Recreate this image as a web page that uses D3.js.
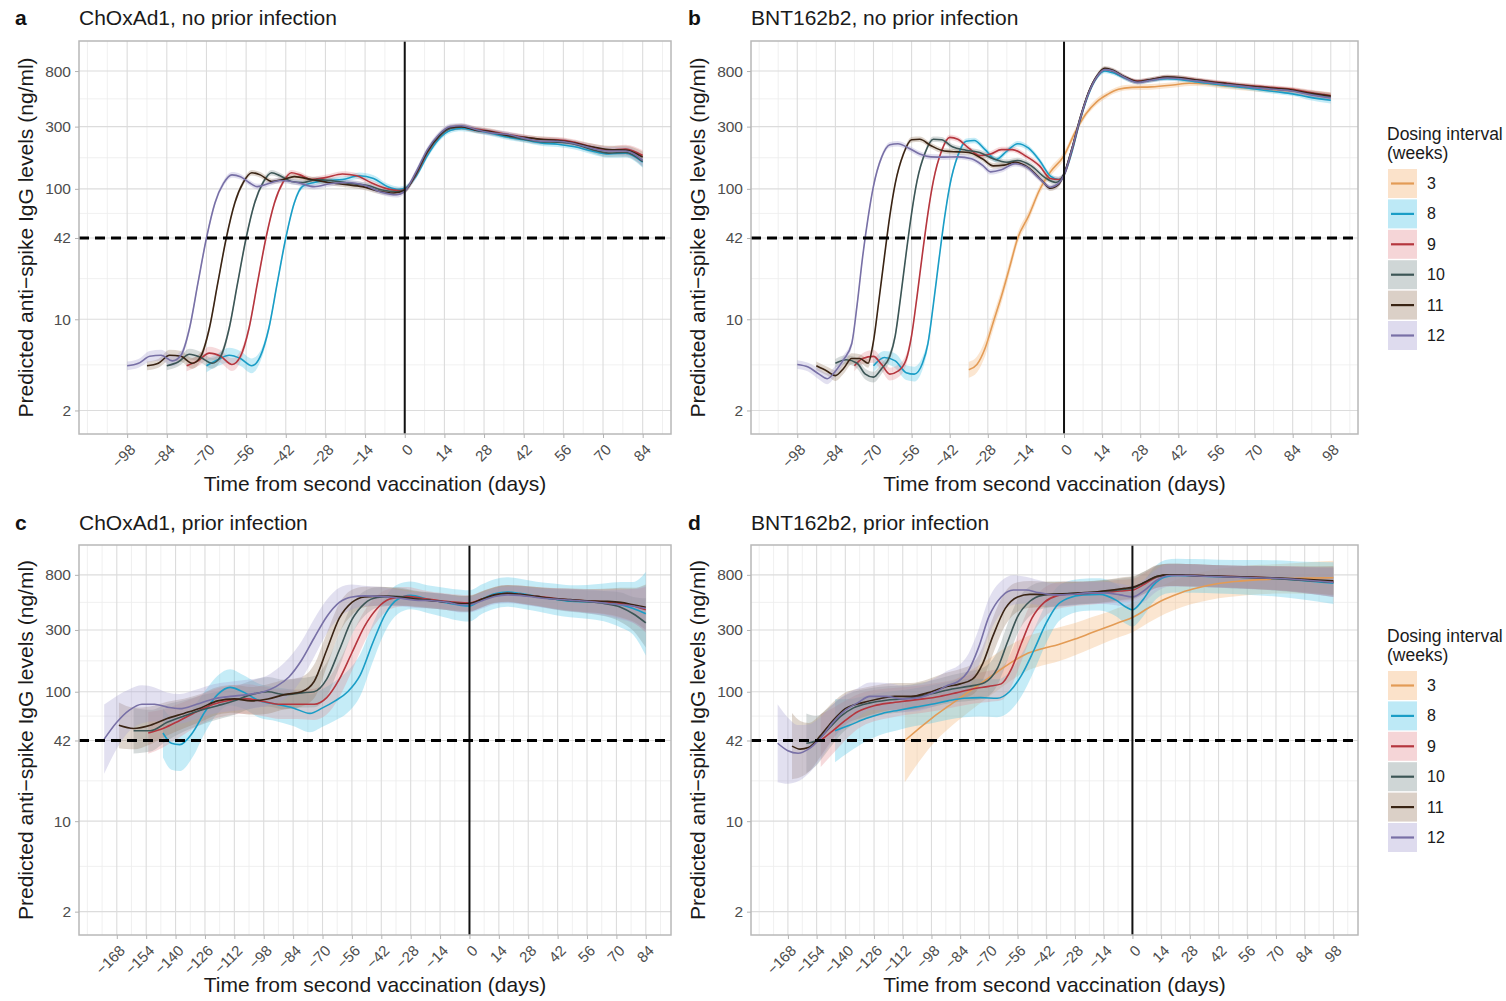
<!DOCTYPE html>
<html><head><meta charset="utf-8">
<script src="https://cdn.jsdelivr.net/npm/d3@7"></script>
<style>body{margin:0;background:#fff;} svg{display:block;}</style>
</head><body><svg id="chart" width="1506" height="1001"></svg>
<script>
// ---------------- DATA ----------------
const intervals = ["3","8","9","10","11","12"];
const yTicks = [2, 10, 42, 100, 300, 800];
const xTicksA = [-98,-84,-70,-56,-42,-28,-14,0,14,28,42,56,70,84];
const xTicksB = [-98,-84,-70,-56,-42,-28,-14,0,14,28,42,56,70,84,98];
const xTicksC = [-168,-154,-140,-126,-112,-98,-84,-70,-56,-42,-28,-14,0,14,28,42,56,70,84];
const xTicksD = [-168,-154,-140,-126,-112,-98,-84,-70,-56,-42,-28,-14,0,14,28,42,56,70,84,98];
const threshold = 42;

// each point: [day, predicted level, CI half-width factor]
const A12 = [[-98,4.4,1.08],[-94,4.6,1.08],[-90,5.2,1.1],[-86,5.3,1.1],[-82,4.8,1.1],[-79,5.3,1.08],[-76,8.5,1.07],[-73,19,1.06],[-70,42,1.05],[-67,78,1.05],[-64,110,1.05],[-61,128,1.05],[-58,124,1.05],[-55,112,1.05],[-52,104,1.05],[-48,110,1.05],[-44,116,1.05],[-38,112,1.05],[-32,104,1.05],[-26,110,1.05],[-20,112,1.05],[-14,106,1.05],[-8,94,1.05],[-3,90,1.05],[0,96,1.05],[4,135,1.05],[8,200,1.05],[12,260,1.05],[16,300,1.05],[20,305,1.05],[25,285,1.05],[30,270,1.05],[36,262,1.05],[42,245,1.05],[48,232,1.05],[54,232,1.05],[60,222,1.05],[66,205,1.06],[72,195,1.07],[78,195,1.08],[84,165,1.1]];
const A11 = [[-91,4.4,1.08],[-87,4.6,1.08],[-83,5.3,1.1],[-79,5.2,1.1],[-75,4.6,1.1],[-72,5.2,1.08],[-69,8.5,1.07],[-66,19,1.06],[-63,42,1.05],[-60,78,1.05],[-57,112,1.05],[-54,133,1.05],[-51,128,1.05],[-47,114,1.05],[-43,118,1.05],[-39,124,1.05],[-33,118,1.05],[-27,112,1.05],[-21,108,1.05],[-15,104,1.05],[-9,96,1.05],[-4,93,1.05],[0,97,1.05],[4,132,1.05],[8,195,1.05],[12,255,1.05],[16,295,1.05],[20,300,1.05],[25,282,1.05],[30,275,1.05],[36,258,1.05],[42,248,1.05],[48,240,1.05],[54,235,1.05],[60,225,1.05],[66,210,1.06],[72,200,1.07],[78,198,1.08],[84,175,1.1]];
const A10 = [[-84,4.4,1.08],[-80,4.7,1.08],[-76,5.4,1.1],[-72,5.1,1.1],[-68,4.6,1.1],[-65,5.2,1.08],[-62,8.5,1.07],[-59,19,1.06],[-56,42,1.05],[-53,78,1.05],[-50,112,1.05],[-47,133,1.05],[-44,126,1.05],[-40,114,1.05],[-36,112,1.05],[-31,118,1.05],[-25,115,1.05],[-19,110,1.05],[-13,106,1.05],[-8,98,1.05],[-3,95,1.05],[0,98,1.05],[4,130,1.05],[8,192,1.05],[12,250,1.05],[16,290,1.05],[20,298,1.05],[25,285,1.05],[30,272,1.05],[36,255,1.05],[42,240,1.05],[48,230,1.05],[54,228,1.05],[60,220,1.05],[66,200,1.06],[72,188,1.07],[78,190,1.08],[84,162,1.1]];
const A9 = [[-77,4.4,1.1],[-73,4.8,1.1],[-69,5.5,1.12],[-65,5.2,1.12],[-61,4.5,1.12],[-58,5.2,1.1],[-55,8.5,1.07],[-52,19,1.06],[-49,42,1.05],[-46,78,1.05],[-43,112,1.05],[-40,133,1.05],[-37,128,1.05],[-33,118,1.05],[-28,122,1.05],[-22,130,1.05],[-17,126,1.05],[-12,112,1.05],[-6,100,1.05],[-2,97,1.05],[0,99,1.05],[4,128,1.05],[8,190,1.05],[12,250,1.05],[16,292,1.05],[20,300,1.05],[25,288,1.05],[30,278,1.05],[36,262,1.05],[42,250,1.05],[48,240,1.05],[54,238,1.05],[60,228,1.05],[66,210,1.06],[72,198,1.07],[78,202,1.08],[84,180,1.1]];
const A8 = [[-70,4.4,1.12],[-66,4.9,1.12],[-62,5.3,1.14],[-58,5.0,1.14],[-54,4.4,1.14],[-51,5.2,1.1],[-48,8.5,1.07],[-45,19,1.06],[-42,42,1.05],[-39,78,1.05],[-36,105,1.05],[-32,112,1.05],[-27,116,1.05],[-22,118,1.05],[-16,126,1.06],[-11,120,1.06],[-6,104,1.05],[-2,99,1.05],[0,101,1.05],[4,125,1.05],[8,180,1.05],[12,240,1.05],[16,280,1.05],[20,290,1.05],[25,280,1.05],[30,268,1.05],[36,250,1.05],[42,238,1.05],[48,225,1.05],[54,220,1.05],[60,210,1.05],[66,195,1.06],[72,185,1.07],[78,188,1.08],[84,160,1.1]];

const B12 = [[-98,4.5,1.08],[-94,4.3,1.08],[-90,3.8,1.1],[-87,3.5,1.1],[-84,4.0,1.1],[-81,4.9,1.08],[-78,6.5,1.07],[-76,13,1.06],[-74,30,1.05],[-72,60,1.05],[-70,105,1.05],[-67,175,1.05],[-64,218,1.05],[-61,222,1.05],[-57,205,1.05],[-53,185,1.05],[-49,176,1.05],[-44,175,1.05],[-39,176,1.05],[-34,170,1.05],[-30,152,1.05],[-27,135,1.05],[-23,140,1.05],[-18,156,1.05],[-14,148,1.05],[-9,120,1.05],[-5,103,1.05],[-2,110,1.05],[0,128,1.05],[3,205,1.05],[6,350,1.05],[9,540,1.04],[12,720,1.04],[15,820,1.04],[18,800,1.04],[22,720,1.04],[27,655,1.04],[32,680,1.04],[38,708,1.04],[43,698,1.04],[48,675,1.04],[54,650,1.04],[60,630,1.04],[66,610,1.04],[72,592,1.04],[78,578,1.04],[84,562,1.04],[90,530,1.05],[98,498,1.06]];
const B11 = [[-91,4.4,1.08],[-87,4.0,1.08],[-84,3.7,1.1],[-81,4.2,1.1],[-78,5.0,1.1],[-75,5.0,1.08],[-72,4.6,1.08],[-70,6.8,1.07],[-68,14,1.06],[-66,30,1.05],[-64,62,1.05],[-62,110,1.05],[-59,185,1.05],[-56,238,1.05],[-53,240,1.05],[-49,215,1.05],[-44,195,1.05],[-39,192,1.05],[-35,190,1.05],[-30,170,1.05],[-26,150,1.05],[-22,152,1.05],[-18,160,1.05],[-13,145,1.05],[-8,115,1.05],[-5,101,1.05],[-2,108,1.05],[0,130,1.05],[3,208,1.05],[6,355,1.05],[9,550,1.04],[12,730,1.04],[15,840,1.04],[18,812,1.04],[22,728,1.04],[27,665,1.04],[32,690,1.04],[38,720,1.04],[43,710,1.04],[48,686,1.04],[54,660,1.04],[60,640,1.04],[66,620,1.04],[72,602,1.04],[78,588,1.04],[84,572,1.04],[90,542,1.05],[98,515,1.06]];
const B10 = [[-84,4.6,1.08],[-80,4.9,1.08],[-76,4.6,1.1],[-73,3.8,1.1],[-70,3.6,1.1],[-67,4.2,1.1],[-64,5.2,1.08],[-62,7.5,1.07],[-60,15,1.06],[-58,32,1.05],[-56,65,1.05],[-54,115,1.05],[-51,190,1.05],[-48,240,1.05],[-45,238,1.05],[-41,210,1.05],[-36,198,1.05],[-31,190,1.05],[-26,170,1.05],[-21,160,1.05],[-17,165,1.05],[-12,150,1.05],[-7,122,1.05],[-3,112,1.05],[0,130,1.05],[3,205,1.05],[6,350,1.05],[9,545,1.04],[12,725,1.04],[15,830,1.04],[18,800,1.04],[22,720,1.04],[27,660,1.04],[32,685,1.04],[38,715,1.04],[43,705,1.04],[48,680,1.04],[54,655,1.04],[60,635,1.04],[66,612,1.04],[72,595,1.04],[78,580,1.04],[84,565,1.04],[90,535,1.05],[98,505,1.06]];
const B9 = [[-77,4.4,1.1],[-74,5.0,1.1],[-70,5.2,1.12],[-67,4.5,1.12],[-64,3.8,1.12],[-61,4.0,1.12],[-58,4.9,1.1],[-56,7.5,1.07],[-54,15,1.06],[-52,32,1.05],[-50,65,1.05],[-48,115,1.05],[-45,195,1.05],[-42,248,1.05],[-39,240,1.05],[-35,205,1.05],[-31,180,1.05],[-27,185,1.05],[-23,200,1.05],[-19,200,1.05],[-14,178,1.05],[-9,150,1.05],[-5,120,1.05],[-2,118,1.05],[0,128,1.05],[3,200,1.05],[6,345,1.05],[9,540,1.04],[12,720,1.04],[15,825,1.04],[18,800,1.04],[22,725,1.04],[27,670,1.04],[32,690,1.04],[38,720,1.04],[43,710,1.04],[48,690,1.04],[54,665,1.04],[60,645,1.04],[66,625,1.04],[72,610,1.04],[78,595,1.04],[84,580,1.04],[90,550,1.05],[98,520,1.06]];
const B8 = [[-70,4.4,1.12],[-66,5.1,1.12],[-62,4.8,1.14],[-58,3.9,1.14],[-55,3.8,1.14],[-52,4.6,1.12],[-50,6.5,1.08],[-48,13,1.06],[-46,28,1.05],[-44,58,1.05],[-42,105,1.05],[-39,180,1.05],[-36,232,1.05],[-33,235,1.05],[-29,200,1.05],[-25,168,1.05],[-21,195,1.05],[-17,222,1.05],[-13,205,1.05],[-9,165,1.05],[-5,125,1.05],[-2,118,1.05],[0,128,1.05],[3,195,1.05],[6,340,1.05],[9,530,1.04],[12,710,1.04],[15,800,1.04],[18,775,1.04],[22,712,1.04],[27,660,1.04],[32,680,1.04],[38,700,1.04],[43,688,1.04],[48,664,1.04],[54,640,1.04],[60,618,1.04],[66,598,1.04],[72,575,1.04],[78,555,1.04],[84,535,1.04],[90,505,1.05],[98,478,1.06]];
const B3 = [[-35,4.1,1.15],[-32,4.5,1.15],[-29,6,1.15],[-26,9.5,1.14],[-23,15,1.13],[-20,25,1.12],[-17,42,1.1],[-13,62,1.1],[-9,98,1.08],[-5,135,1.08],[0,180,1.07],[4,270,1.06],[8,375,1.06],[12,465,1.06],[16,530,1.05],[20,580,1.05],[25,600,1.05],[32,605,1.05],[40,625,1.05],[46,645,1.05],[52,640,1.05],[60,612,1.05],[68,592,1.05],[76,575,1.05],[84,565,1.05],[90,538,1.06],[98,510,1.07]];

const C12 = [[-174,43,1.85],[-168,58,1.6],[-162,72,1.45],[-156,80,1.4],[-150,80,1.35],[-144,76,1.3],[-138,74,1.3],[-130,80,1.3],[-122,88,1.3],[-114,92,1.3],[-106,95,1.3],[-98,100,1.3],[-92,110,1.35],[-86,130,1.4],[-80,175,1.4],[-74,260,1.4],[-68,380,1.35],[-62,490,1.3],[-56,540,1.25],[-50,550,1.2],[-42,545,1.18],[-34,530,1.16],[-26,510,1.15],[-18,505,1.15],[-10,490,1.15],[-4,470,1.15],[0,470,1.15],[6,505,1.15],[12,545,1.15],[18,560,1.16],[24,555,1.17],[32,535,1.18],[40,520,1.2],[48,510,1.22],[56,500,1.23],[64,485,1.25],[72,470,1.3],[78,460,1.35],[84,440,1.5]];
const C11 = [[-167,55,1.5],[-160,52,1.45],[-152,55,1.4],[-144,62,1.35],[-136,68,1.3],[-128,75,1.28],[-120,85,1.28],[-112,88,1.28],[-104,85,1.28],[-96,88,1.3],[-88,95,1.3],[-80,100,1.3],[-74,120,1.35],[-68,210,1.35],[-62,370,1.3],[-56,490,1.25],[-50,540,1.2],[-42,548,1.18],[-34,540,1.16],[-26,520,1.15],[-18,505,1.15],[-10,490,1.15],[-4,478,1.15],[0,480,1.15],[6,520,1.15],[12,560,1.15],[18,575,1.16],[24,565,1.17],[32,545,1.18],[40,525,1.2],[48,515,1.22],[56,505,1.23],[64,500,1.25],[72,490,1.3],[78,470,1.35],[84,450,1.5]];
const C10 = [[-160,50,1.5],[-152,50,1.45],[-144,58,1.38],[-136,65,1.32],[-128,72,1.3],[-120,78,1.28],[-112,85,1.28],[-104,95,1.28],[-96,100,1.3],[-88,95,1.3],[-80,98,1.3],[-74,100,1.32],[-68,125,1.35],[-62,210,1.35],[-56,360,1.3],[-50,480,1.25],[-44,535,1.2],[-36,545,1.18],[-28,530,1.16],[-20,510,1.15],[-12,495,1.15],[-4,480,1.15],[0,478,1.15],[6,515,1.15],[12,555,1.15],[18,570,1.16],[24,560,1.17],[32,540,1.18],[40,520,1.2],[48,505,1.22],[56,495,1.23],[64,480,1.25],[72,450,1.3],[78,400,1.35],[84,340,1.55]];
const C9 = [[-153,48,1.45],[-146,52,1.4],[-138,60,1.35],[-130,70,1.3],[-122,80,1.3],[-114,86,1.3],[-106,88,1.3],[-98,84,1.3],[-90,80,1.3],[-82,80,1.3],[-74,80,1.32],[-68,90,1.35],[-62,125,1.38],[-56,200,1.38],[-50,320,1.32],[-44,440,1.26],[-38,520,1.2],[-30,545,1.18],[-22,525,1.16],[-14,505,1.15],[-6,490,1.15],[0,485,1.15],[6,520,1.15],[12,560,1.15],[18,575,1.16],[24,565,1.17],[32,545,1.18],[40,528,1.2],[48,512,1.22],[56,502,1.23],[64,495,1.25],[72,480,1.3],[78,460,1.35],[84,430,1.5]];
const C8 = [[-146,48,1.55],[-142,40,1.6],[-138,39,1.6],[-132,48,1.55],[-126,70,1.45],[-120,95,1.4],[-114,108,1.38],[-108,100,1.35],[-100,85,1.35],[-92,80,1.35],[-84,75,1.38],[-76,68,1.4],[-70,75,1.4],[-64,85,1.42],[-58,100,1.45],[-52,135,1.45],[-46,240,1.4],[-40,400,1.35],[-34,520,1.3],[-28,555,1.28],[-20,520,1.28],[-12,490,1.3],[-4,465,1.32],[0,460,1.32],[6,520,1.3],[12,570,1.3],[18,590,1.3],[24,575,1.3],[32,545,1.3],[40,520,1.32],[48,500,1.33],[56,495,1.35],[64,490,1.4],[72,470,1.5],[78,440,1.6],[84,400,2.1]];

const D12 = [[-173,40,2.0],[-168,35,1.8],[-163,33.5,1.65],[-158,36,1.55],[-152,44,1.45],[-146,58,1.38],[-140,72,1.33],[-134,82,1.3],[-128,92,1.28],[-120,92,1.27],[-112,88,1.27],[-104,90,1.27],[-96,100,1.28],[-90,112,1.3],[-85,120,1.32],[-80,145,1.35],[-75,220,1.38],[-70,380,1.38],[-64,540,1.33],[-58,610,1.3],[-52,610,1.27],[-46,585,1.25],[-38,560,1.23],[-30,565,1.22],[-22,580,1.22],[-14,580,1.22],[-6,560,1.22],[0,540,1.22],[6,610,1.22],[12,730,1.22],[18,790,1.22],[26,790,1.22],[36,780,1.22],[48,770,1.22],[60,760,1.23],[72,750,1.24],[84,730,1.26],[98,700,1.3]];
const D11 = [[-166,38,1.8],[-162,36,1.65],[-158,37,1.55],[-152,46,1.45],[-146,60,1.38],[-140,74,1.33],[-132,82,1.3],[-124,88,1.28],[-116,92,1.27],[-108,92,1.27],[-100,98,1.27],[-92,108,1.28],[-84,115,1.3],[-78,125,1.32],[-73,165,1.35],[-68,270,1.38],[-62,440,1.35],[-56,540,1.3],[-50,565,1.27],[-42,565,1.25],[-34,570,1.23],[-26,580,1.22],[-18,590,1.22],[-10,610,1.22],[-4,630,1.22],[0,640,1.22],[6,700,1.22],[12,780,1.22],[18,800,1.22],[26,795,1.22],[36,785,1.22],[48,775,1.22],[60,765,1.23],[72,755,1.24],[84,740,1.26],[98,720,1.3]];
const D10 = [[-159,40,1.7],[-154,42,1.55],[-148,52,1.45],[-142,65,1.38],[-136,75,1.33],[-128,82,1.3],[-120,86,1.28],[-112,88,1.27],[-104,92,1.27],[-96,98,1.27],[-88,105,1.28],[-80,110,1.3],[-72,118,1.32],[-66,150,1.35],[-61,240,1.38],[-56,380,1.35],[-50,500,1.3],[-44,555,1.27],[-36,570,1.25],[-28,575,1.23],[-20,585,1.22],[-12,600,1.22],[-4,620,1.22],[0,630,1.22],[6,700,1.22],[12,775,1.22],[18,800,1.22],[26,795,1.22],[36,785,1.22],[48,770,1.22],[60,760,1.23],[72,745,1.24],[84,725,1.26],[98,700,1.3]];
const D9 = [[-152,42,1.6],[-146,50,1.5],[-140,60,1.42],[-134,70,1.36],[-126,78,1.32],[-118,82,1.3],[-110,85,1.28],[-102,88,1.28],[-94,92,1.28],[-86,98,1.28],[-78,105,1.3],[-70,110,1.32],[-64,115,1.34],[-59,150,1.36],[-54,240,1.38],[-49,370,1.35],[-43,490,1.3],[-37,550,1.27],[-30,570,1.25],[-22,575,1.23],[-14,585,1.22],[-6,600,1.22],[0,610,1.22],[6,680,1.22],[12,770,1.22],[18,800,1.22],[26,795,1.22],[36,785,1.22],[48,775,1.22],[60,765,1.23],[72,750,1.24],[84,730,1.26],[98,705,1.3]];
const D8 = [[-145,50,1.75],[-138,55,1.6],[-130,62,1.5],[-122,68,1.45],[-114,72,1.42],[-106,76,1.4],[-98,80,1.4],[-90,85,1.4],[-82,89,1.4],[-74,90,1.4],[-66,89,1.4],[-60,100,1.42],[-54,135,1.45],[-48,210,1.45],[-42,340,1.42],[-37,460,1.38],[-31,530,1.35],[-24,560,1.33],[-16,565,1.33],[-8,510,1.33],[-3,450,1.35],[0,430,1.35],[5,510,1.35],[10,660,1.35],[16,770,1.35],[22,790,1.35],[30,785,1.35],[42,775,1.35],[56,765,1.36],[70,750,1.38],[84,720,1.4],[98,690,1.45]];
const D3 = [[-111,42,2.1],[-104,52,1.8],[-97,64,1.6],[-90,77,1.5],[-83,92,1.45],[-76,110,1.42],[-68,135,1.4],[-60,165,1.38],[-52,195,1.36],[-44,215,1.35],[-36,232,1.35],[-28,255,1.33],[-20,285,1.32],[-12,318,1.3],[-6,345,1.3],[0,375,1.3],[8,445,1.3],[16,520,1.3],[24,585,1.3],[32,635,1.3],[42,685,1.3],[52,715,1.3],[62,735,1.3],[72,745,1.3],[84,755,1.32],[98,760,1.35]];

// ---------------- STYLE / LAYOUT ----------------
const FONT = '"Liberation Sans", Arial, Helvetica, sans-serif';
const lineCol = {"3":"#E39B55","8":"#1A9DC6","9":"#B5363E","10":"#3C5656","11":"#3A2414","12":"#7870A6"};
const fillCol = {"3":"#F4B070","8":"#4CC3E6","9":"#E48C92","10":"#7E9090","11":"#9C8066","12":"#A69ED0"};
const fillOp = 0.32;

const panels = [
  {key:"a", title:"ChOxAd1, no prior infection", x0:79, x1:671, y0:41, y1:434, xdom:[-115,94], ticks:xTicksA,
   series:{"8":A8,"9":A9,"10":A10,"11":A11,"12":A12}, labelY:25},
  {key:"b", title:"BNT162b2, no prior infection", x0:751, x1:1358, y0:41, y1:434, xdom:[-115,108], ticks:xTicksB,
   series:{"3":B3,"8":B8,"9":B9,"10":B10,"11":B11,"12":B12}, labelY:25},
  {key:"c", title:"ChOxAd1, prior infection", x0:79, x1:671, y0:545, y1:935, xdom:[-186,96], ticks:xTicksC,
   series:{"8":C8,"9":C9,"10":C10,"11":C11,"12":C12}, labelY:530},
  {key:"d", title:"BNT162b2, prior infection", x0:751, x1:1358, y0:545, y1:935, xdom:[-186,110], ticks:xTicksD,
   series:{"3":D3,"8":D8,"9":D9,"10":D10,"11":D11,"12":D12}, labelY:530}
];

const svg = d3.select("#chart").style("font-family", FONT);
const defs = svg.append("defs");
const fmt = d => d < 0 ? "\u2212" + Math.abs(d) : String(d);

panels.forEach(p => {
  const x = d3.scaleLinear().domain(p.xdom).range([p.x0, p.x1]);
  const y = d3.scaleLog().domain([1.32, 1360]).range([p.y1, p.y0]);
  const g = svg.append("g");
  const cid = "clip-" + p.key;
  defs.append("clipPath").attr("id", cid).append("rect")
    .attr("x", p.x0).attr("y", p.y0).attr("width", p.x1 - p.x0).attr("height", p.y1 - p.y0);

  // grid
  const grid = g.append("g");
  const minorX = d3.range(p.ticks[0] - 14, p.ticks[p.ticks.length - 1] + 15, 7)
    .filter(d => d >= p.xdom[0] && d <= p.xdom[1] && !p.ticks.includes(d));
  const minorY = yTicks.slice(1).map((t, i) => Math.sqrt(t * yTicks[i]));
  grid.selectAll(".mx").data(minorX).join("line")
    .attr("x1", d => x(d)).attr("x2", d => x(d)).attr("y1", p.y0).attr("y2", p.y1)
    .attr("stroke", "#ececec").attr("stroke-width", 0.8);
  grid.selectAll(".my").data(minorY).join("line")
    .attr("y1", d => y(d)).attr("y2", d => y(d)).attr("x1", p.x0).attr("x2", p.x1)
    .attr("stroke", "#ececec").attr("stroke-width", 0.8);
  grid.selectAll(".Mx").data(p.ticks).join("line")
    .attr("x1", d => x(d)).attr("x2", d => x(d)).attr("y1", p.y0).attr("y2", p.y1)
    .attr("stroke", "#dcdcdc").attr("stroke-width", 1.1);
  grid.selectAll(".My").data(yTicks).join("line")
    .attr("y1", d => y(d)).attr("y2", d => y(d)).attr("x1", p.x0).attr("x2", p.x1)
    .attr("stroke", "#dcdcdc").attr("stroke-width", 1.1);

  const plot = g.append("g").attr("clip-path", `url(#${cid})`);
  const keys = intervals.filter(k => p.series[k]);
  const area = d3.area().curve(d3.curveMonotoneX)
    .x(d => x(d[0])).y0(d => y(d[1] / d[2])).y1(d => y(d[1] * d[2]));
  const line = d3.line().curve(d3.curveMonotoneX).x(d => x(d[0])).y(d => y(d[1]));
  plot.selectAll(".rib").data(keys).join("path")
    .attr("d", k => area(p.series[k])).attr("fill", k => fillCol[k]).attr("fill-opacity", fillOp);
  plot.selectAll(".ln").data(keys).join("path")
    .attr("d", k => line(p.series[k])).attr("fill", "none")
    .attr("stroke", k => lineCol[k]).attr("stroke-width", 1.6);

  // reference lines
  plot.append("line").attr("x1", x(0)).attr("x2", x(0)).attr("y1", p.y0).attr("y2", p.y1)
    .attr("stroke", "#111").attr("stroke-width", 2);
  plot.append("line").attr("x1", p.x0).attr("x2", p.x1).attr("y1", y(threshold)).attr("y2", y(threshold))
    .attr("stroke", "#000").attr("stroke-width", 3).attr("stroke-dasharray", "10,6");

  // border
  g.append("rect").attr("x", p.x0).attr("y", p.y0).attr("width", p.x1 - p.x0).attr("height", p.y1 - p.y0)
    .attr("fill", "none").attr("stroke", "#b8b8b8").attr("stroke-width", 1.5);

  // axes
  const ya = g.append("g").attr("transform", `translate(${p.x0},0)`)
    .call(d3.axisLeft(y).tickValues(yTicks).tickFormat(d => String(d)).tickSize(4).tickPadding(4));
  ya.select(".domain").remove();
  ya.selectAll("line").attr("stroke", "#b3b3b3");
  ya.selectAll("text").attr("fill", "#4d4d4d").style("font-size", "15.5px").style("font-family", FONT);

  const xa = g.append("g").attr("transform", `translate(0,${p.y1})`)
    .call(d3.axisBottom(x).tickValues(p.ticks).tickFormat(fmt).tickSize(4));
  xa.select(".domain").remove();
  xa.selectAll("line").attr("stroke", "#b3b3b3");
  xa.selectAll("text").attr("fill", "#4d4d4d").style("font-size", "15px").style("font-family", FONT)
    .attr("y", 0).attr("dy", "0.72em").attr("text-anchor", "end")
    .attr("transform", "translate(1,9) rotate(-45)");

  // titles
  svg.append("text").attr("x", p.key === "a" || p.key === "c" ? 15 : 688).attr("y", p.labelY)
    .text(p.key).style("font-size", "21px").style("font-weight", "bold").attr("fill", "#111");
  svg.append("text").attr("x", p.x0).attr("y", p.labelY).text(p.title)
    .style("font-size", "21px").attr("fill", "#1a1a1a");
  svg.append("text").attr("x", (p.x0 + p.x1) / 2).attr("y", p.y1 + 57).attr("text-anchor", "middle")
    .text("Time from second vaccination (days)").style("font-size", "21px").attr("fill", "#1a1a1a");
  svg.append("text").attr("transform", `translate(${p.x0 - 46},${(p.y0 + p.y1) / 2}) rotate(-90)`)
    .attr("text-anchor", "middle").text("Predicted anti\u2212spike IgG levels (ng/ml)")
    .style("font-size", "21px").attr("fill", "#1a1a1a");
});

// legends
[{top:126}, {top:628}].forEach(L => {
  const lg = svg.append("g").attr("transform", `translate(1387,${L.top})`);
  lg.append("text").attr("x", 0).attr("y", 14).text("Dosing interval").style("font-size", "17.5px").attr("fill", "#1a1a1a");
  lg.append("text").attr("x", 0).attr("y", 33).text("(weeks)").style("font-size", "17.5px").attr("fill", "#1a1a1a");
  const items = lg.selectAll(".it").data(intervals).join("g")
    .attr("transform", (d, i) => `translate(0,${43 + i * 30.4})`);
  items.append("rect").attr("x", 1).attr("y", 0).attr("width", 29).attr("height", 29)
    .attr("fill", d => fillCol[d]).attr("fill-opacity", fillOp + 0.05);
  items.append("line").attr("x1", 4).attr("x2", 27).attr("y1", 14.5).attr("y2", 14.5)
    .attr("stroke", d => lineCol[d]).attr("stroke-width", 2.2);
  items.append("text").attr("x", 40).attr("y", 14.5).attr("dy", "0.35em").text(d => d)
    .style("font-size", "16px").attr("fill", "#1a1a1a");
});
</script></body></html>
